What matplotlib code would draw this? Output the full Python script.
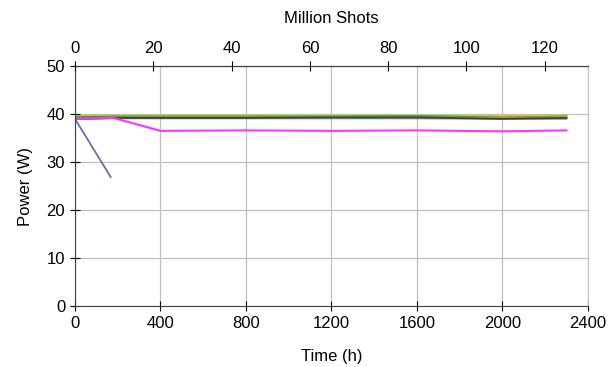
import matplotlib
matplotlib.use("Agg")
import matplotlib.pyplot as plt

plt.rcParams['font.family'] = ['Liberation Sans', 'DejaVu Sans']

# Data (time in hours, power in W)
t_main = [0, 180, 400, 800, 1200, 1600, 2000, 2300]
yellowgreen = [39.6, 39.7, 39.7, 39.7, 39.7, 39.7, 39.6, 39.7]
green = [39.4, 39.5, 39.5, 39.5, 39.5, 39.6, 39.3, 39.5]
orange = [39.1, 39.3, 39.3, 39.3, 39.3, 39.3, 39.2, 39.4]
black = [39.0, 39.2, 39.2, 39.2, 39.3, 39.3, 39.0, 39.2]
blue = [38.9, 39.1, 39.1, 39.1, 39.1, 39.1, 39.0, 39.0]

t_magenta = [0, 180, 400, 800, 1200, 1600, 2000, 2300]
magenta = [39.0, 39.2, 36.5, 36.6, 36.5, 36.6, 36.4, 36.6]

t_purple = [0, 167]
purple = [39.0, 26.9]

x_ticks = [0, 400, 800, 1200, 1600, 2000, 2400]
y_ticks = [0, 10, 20, 30, 40, 50]
top_ticks = [0, 20, 40, 60, 80, 100, 120]
top_max = 131

fs = 12
fig = plt.figure(figsize=(6.13, 3.67), dpi=100)
ax = fig.add_axes([0.1223, 0.166, 0.8367, 0.654])

ax.plot(t_main, yellowgreen, color='#b5d334', lw=1.3)
ax.plot(t_main, green, color='#3f9a3f', lw=1.3)
ax.plot(t_main, orange, color='#f08a24', lw=1.3)
ax.plot(t_main, blue, color='#5b9bd5', lw=1.3)
ax.plot(t_main, black, color='#404040', lw=1.3)
ax.plot(t_magenta, magenta, color='#ff33ff', lw=1.5)
ax.plot(t_purple, purple, color='#6e6aa8', lw=1.3)

ax.set_xlim(0, 2400)
ax.set_ylim(0, 50)
ax.set_xticks(x_ticks)
ax.set_yticks(y_ticks)
ax.grid(True, color='#c0c0c0', lw=0.9)
ax.set_axisbelow(True)
ax.tick_params(direction='inout', length=7, labelsize=fs, width=0.8)
for s in ['left', 'bottom']:
    ax.spines[s].set_color('#404040')
ax.spines['right'].set_color('#c0c0c0')
ax.spines['top'].set_color('#404040')
ax.set_xlabel('Time (h)', fontsize=fs, labelpad=13)
ax.set_ylabel('Power (W)', fontsize=fs, labelpad=10)

ax2 = ax.twiny()
ax2.set_xlim(0, top_max)
ax2.set_xticks(top_ticks)
ax2.tick_params(direction='inout', length=7, labelsize=fs, width=0.8)
ax2.set_xlabel('Million Shots', fontsize=fs, labelpad=13)
for s in ['left', 'bottom', 'right']:
    ax2.spines[s].set_visible(False)
ax2.spines['top'].set_color('#404040')

fig.savefig('out.png', dpi=100)
